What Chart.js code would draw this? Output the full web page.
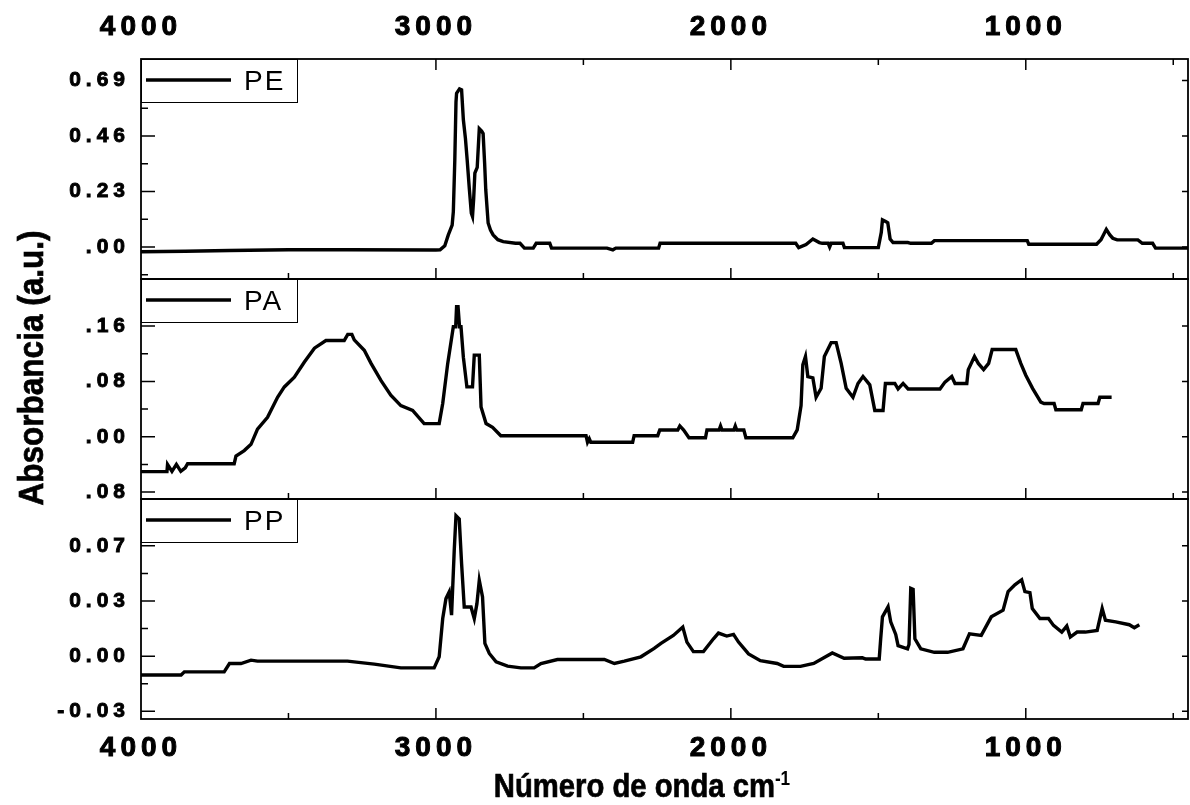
<!DOCTYPE html>
<html>
<head>
<meta charset="utf-8">
<script src="https://cdn.jsdelivr.net/npm/chart.js@4.4.1/dist/chart.umd.min.js"></script>
<style>
  html, body { margin: 0; padding: 0; background: #fff; }
  canvas { display: block; }
</style>
</head>
<body>
<canvas id="ftir" width="1190" height="805"></canvas>
<script>
// wavenumber axis (cm-1), drawn high -> low
const xMin = 450
const xMax = 4000
const xMajor = [4000, 3000, 2000, 1000]
const xMinor = [3500, 2500, 1500, 500]

// PE spectrum
const peWn  = [4000, 3850, 3700, 3500, 3300, 3000, 2986, 2970, 2958, 2945, 2941, 2936, 2932, 2930, 2920, 2913, 2907, 2900, 2894, 2887, 2880, 2876, 2872, 2868, 2860, 2853, 2845, 2840, 2835, 2831, 2823, 2815, 2806, 2790, 2772, 2730, 2715, 2700, 2670, 2660, 2614, 2608, 2420, 2400, 2390, 2245, 2240, 1780, 1770, 1745, 1722, 1700, 1690, 1670, 1665, 1660, 1620, 1615, 1500, 1490, 1486, 1475, 1468, 1460, 1450, 1400, 1390, 1320, 1310, 1050, 995, 990, 760, 745, 727, 715, 705, 690, 620, 605, 570, 560, 450]
const peAbs = [-0.020, -0.018, -0.015, -0.012, -0.012, -0.013, -0.012, 0.005, 0.05, 0.09, 0.146, 0.36, 0.60, 0.637, 0.655, 0.651, 0.527, 0.45, 0.36, 0.245, 0.14, 0.126, 0.2, 0.306, 0.33, 0.49, 0.48, 0.47, 0.35, 0.236, 0.099, 0.07, 0.05, 0.03, 0.022, 0.015, 0.015, -0.005, -0.005, 0.015, 0.015, -0.005, -0.005, -0.012, -0.005, -0.005, 0.015, 0.015, -0.003, 0.01, 0.033, 0.018, 0.015, 0.015, 0.0, 0.015, 0.015, -0.003, -0.003, 0.06, 0.112, 0.105, 0.1, 0.033, 0.018, 0.018, 0.015, 0.015, 0.026, 0.026, 0.026, 0.011, 0.011, 0.03, 0.073, 0.05, 0.036, 0.029, 0.029, 0.015, 0.015, -0.005, -0.005]

// PA spectrum
const paWn  = [4000, 3912, 3910, 3895, 3880, 3865, 3850, 3842, 3684, 3678, 3650, 3627, 3605, 3571, 3537, 3514, 3480, 3446, 3412, 3373, 3311, 3299, 3285, 3277, 3243, 3220, 3186, 3153, 3119, 3079, 3040, 2989, 2977, 2960, 2941, 2933, 2930, 2925, 2920, 2915, 2907, 2895, 2876, 2870, 2853, 2847, 2830, 2808, 2780, 2491, 2486, 2480, 2475, 2333, 2328, 2248, 2241, 2180, 2173, 2160, 2142, 2086, 2081, 2040, 2035, 2030, 1990, 1985, 1980, 1956, 1949, 1790, 1775, 1762, 1756, 1747, 1739, 1722, 1711, 1694, 1683, 1660, 1643, 1626, 1609, 1586, 1569, 1552, 1529, 1512, 1484, 1476, 1444, 1433, 1416, 1399, 1291, 1274, 1251, 1240, 1200, 1195, 1174, 1161, 1143, 1126, 1114, 1034, 1017, 1000, 977, 949, 938, 904, 898, 812, 806, 755, 749, 709]
const paAbs = [-0.0505, -0.0505, -0.040, -0.050, -0.040, -0.050, -0.045, -0.039, -0.039, -0.028, -0.020, -0.011, 0.011, 0.028, 0.057, 0.072, 0.086, 0.108, 0.128, 0.139, 0.139, 0.148, 0.148, 0.140, 0.125, 0.106, 0.081, 0.060, 0.045, 0.038, 0.019, 0.019, 0.048, 0.106, 0.159, 0.159, 0.188, 0.188, 0.159, 0.159, 0.115, 0.072, 0.072, 0.118, 0.118, 0.043, 0.019, 0.0135, 0.0015, 0.0015, -0.008, -0.003, -0.008, -0.008, 0.0015, 0.0015, 0.0097, 0.0097, 0.0156, 0.0097, -0.0015, -0.0015, 0.0097, 0.0097, 0.0156, 0.0097, 0.0097, 0.0156, 0.0097, 0.0097, -0.0015, -0.0015, 0.010, 0.045, 0.104, 0.116, 0.087, 0.085, 0.057, 0.070, 0.116, 0.136, 0.136, 0.106, 0.070, 0.057, 0.077, 0.087, 0.075, 0.038, 0.038, 0.077, 0.077, 0.069, 0.077, 0.069, 0.069, 0.079, 0.087, 0.077, 0.077, 0.097, 0.116, 0.106, 0.097, 0.106, 0.126, 0.126, 0.106, 0.089, 0.070, 0.050, 0.048, 0.048, 0.039, 0.039, 0.048, 0.048, 0.057, 0.057]

// PP spectrum
const ppWn  = [4000, 3864, 3853, 3718, 3700, 3661, 3627, 3605, 3401, 3300, 3209, 3119, 3006, 2989, 2977, 2966, 2955, 2947, 2938, 2932, 2921, 2913, 2904, 2881, 2870, 2861, 2853, 2842, 2834, 2819, 2796, 2757, 2712, 2667, 2644, 2588, 2429, 2395, 2361, 2305, 2260, 2237, 2195, 2163, 2149, 2127, 2093, 2059, 2042, 2014, 1991, 1974, 1940, 1900, 1843, 1821, 1764, 1719, 1656, 1616, 1554, 1543, 1497, 1492, 1486, 1467, 1458, 1441, 1433, 1401, 1396, 1390, 1382, 1376, 1356, 1310, 1265, 1213, 1191, 1151, 1117, 1077, 1060, 1037, 1014, 1003, 986, 978, 952, 923, 906, 878, 861, 849, 826, 798, 758, 741, 730, 695, 649, 632, 615]
const ppAbs = [-0.0113, -0.0113, -0.0094, -0.0094, -0.0044, -0.0044, -0.0024, -0.003, -0.003, -0.003, -0.0048, -0.007, -0.007, -0.0004, 0.0225, 0.0344, 0.0384, 0.0245, 0.063, 0.084, 0.082, 0.0553, 0.0294, 0.0294, 0.0225, 0.0314, 0.0453, 0.0354, 0.0076, 0.0016, -0.0034, -0.006, -0.007, -0.007, -0.0044, -0.002, -0.002, -0.0044, -0.003, -0.0004, 0.0046, 0.0076, 0.0124, 0.0174, 0.0084, 0.0027, 0.0027, 0.0104, 0.0138, 0.012, 0.013, 0.0084, 0.0013, -0.0027, -0.0044, -0.0061, -0.0061, -0.0044, 0.0019, -0.0013, -0.001, -0.0017, -0.0017, 0.0104, 0.0235, 0.0295, 0.0205, 0.013, 0.0063, 0.0044, 0.007, 0.0406, 0.040, 0.0104, 0.0044, 0.0023, 0.0023, 0.0044, 0.0134, 0.0124, 0.0235, 0.0275, 0.0386, 0.0427, 0.0457, 0.0386, 0.038, 0.0285, 0.0225, 0.0225, 0.0184, 0.0144, 0.018, 0.0114, 0.0144, 0.0144, 0.0154, 0.0285, 0.0215, 0.0205, 0.0188, 0.017, 0.0188]

// y axis ticks and printed labels per panel
const peTicks  = [0, 0.23, 0.46, 0.69]
const peLabels = ['.00', '0.23', '0.46', '0.69']
const paTicks  = [-0.08, 0, 0.08, 0.16]
const paLabels = ['.08', '.00', '.08', '.16']
const ppTicks  = [-0.033, 0, 0.033, 0.066]
const ppLabels = ['-0.03', '0.00', '0.03', '0.07']

const panelRange = {
  yPE: [-0.133, 0.779],
  yPA: [-0.090, 0.228],
  yPP: [-0.0376, 0.094]
}

const tickFont = { family: "'Liberation Sans', Arial, sans-serif", weight: 'bold' }

const toPoints = (wn, abs) => wn.map((x, i) => ({ x: x, y: abs[i] }))

const yAxis = (id, ticks, labels) => ({
  type: 'linear',
  position: 'left',
  stack: 'panels',
  stackWeight: 1,
  min: panelRange[id][0],
  max: panelRange[id][1],
  afterBuildTicks: s => { s.ticks = ticks.map(v => ({ value: v })) },
  afterFit: s => { s.width = 141 },
  ticks: {
    color: '#000',
    padding: 11,
    textStrokeColor: '#000',
    textStrokeWidth: 0.9,
    font: Object.assign({ size: 21 }, tickFont),
    callback: (v, i) => labels[i]
  },
  grid: { display: false, drawTicks: false },
  border: { display: false }
})

const xAxis = (pos, pad, h) => ({
  type: 'linear',
  position: pos,
  reverse: true,
  min: xMin,
  max: xMax,
  afterBuildTicks: s => { s.ticks = xMajor.map(v => ({ value: v })) },
  afterFit: s => { s.height = h },
  ticks: {
    color: '#000',
    padding: pad,
    maxRotation: 0,
    autoSkip: false,
    textStrokeColor: '#000',
    textStrokeWidth: 1,
    font: Object.assign({ size: 28 }, tickFont),
    callback: v => String(v)
  },
  grid: { display: false, drawTicks: false },
  border: { display: false }
})

// frame, inward tick marks, legend boxes and axis titles
const framePlugin = {
  id: 'frame',
  beforeDraw(chart) {
    chart.ctx.letterSpacing = '5px'
  },
  afterDatasetsDraw(chart) {
    const ctx = chart.ctx
    const x = chart.scales.x
    const L = chart.chartArea.left, R = chart.chartArea.right
    ctx.save()
    ctx.letterSpacing = '0px'
    ctx.strokeStyle = '#000'
    ctx.fillStyle = '#000'

    const panels = [['yPE', peTicks, 0], ['yPA', paTicks, 1], ['yPP', ppTicks, 2]]
    panels.forEach(([id, ticks, p]) => {
      const s = chart.scales[id]
      const T = s.top, B = s.bottom
      ctx.lineWidth = 1.8
      ctx.strokeRect(L, T, R - L, B - T)

      const step = ticks[1] - ticks[0]
      const minors = [ticks[0] - step / 2].concat(ticks.map(v => v + step / 2))
        .filter(v => v > s.min && v < s.max)
      ctx.lineWidth = 1.5
      ctx.beginPath()
      ticks.forEach(v => {
        const py = s.getPixelForValue(v)
        ctx.moveTo(L, py); ctx.lineTo(L + 14, py)
        ctx.moveTo(R, py); ctx.lineTo(R - 6, py)
      })
      minors.forEach(v => {
        const py = s.getPixelForValue(v)
        ctx.moveTo(L, py); ctx.lineTo(L + 7, py)
      })
      // x ticks on the bottom edge of each panel, top edge of the first
      xMajor.concat(xMinor).forEach(v => {
        const px = x.getPixelForValue(v)
        const len = xMajor.includes(v) ? 11 : 6
        if (px <= L + 1 || px >= R - 1) return
        ctx.moveTo(px, B); ctx.lineTo(px, B - len)
        if (p === 0) { ctx.moveTo(px, T); ctx.lineTo(px, T + len) }
      })
      ctx.stroke()

      // legend box
      const ds = chart.data.datasets[p]
      ctx.fillStyle = '#fff'
      ctx.fillRect(L, T, 156, 43)
      ctx.lineWidth = 1
      ctx.strokeRect(L + 0.5, T + 0.5, 156, 43)
      ctx.lineWidth = 3.4
      ctx.beginPath()
      ctx.moveTo(L + 5, T + 21); ctx.lineTo(L + 90, T + 21)
      ctx.stroke()
      ctx.fillStyle = '#000'
      ctx.font = "28px 'Liberation Sans', Arial, sans-serif"
      ctx.letterSpacing = '2px'
      ctx.textBaseline = 'middle'
      ctx.textAlign = 'left'
      ctx.fillText(ds.label, L + 103, T + 23)
      ctx.letterSpacing = '0px'
    })
    ctx.restore()
  },
  afterDraw(chart) {
    const ctx = chart.ctx
    ctx.save()
    ctx.letterSpacing = '0px'
    ctx.fillStyle = '#000'
    ctx.strokeStyle = '#000'
    ctx.lineWidth = 0.7
    ctx.textBaseline = 'alphabetic'
    const fam = "'Liberation Sans', Arial, sans-serif"

    // x title with superscript
    const main = 'Número de onda cm'
    const sup = '-1'
    ctx.font = 'bold 34px ' + fam
    const wMain = ctx.measureText(main).width
    ctx.font = 'bold 20px ' + fam
    const wSup = ctx.measureText(sup).width
    const sx = 0.86
    const total = (wMain + wSup) * sx
    ctx.save()
    ctx.translate(642 - total / 2, 797)
    ctx.scale(sx, 1)
    ctx.font = 'bold 34px ' + fam
    ctx.textAlign = 'left'
    ctx.fillText(main, 0, 0)
    ctx.strokeText(main, 0, 0)
    ctx.font = 'bold 20px ' + fam
    ctx.fillText(sup, wMain, -12)
    ctx.restore()

    // y title
    ctx.save()
    ctx.translate(43, 368)
    ctx.rotate(-Math.PI / 2)
    ctx.scale(0.9, 1)
    ctx.font = 'bold 35px ' + fam
    ctx.textAlign = 'center'
    ctx.fillText('Absorbancia (a.u.)', 0, 0)
    ctx.strokeText('Absorbancia (a.u.)', 0, 0)
    ctx.restore()
    ctx.restore()
  }
}

const lineStyle = {
  borderColor: '#000',
  borderWidth: 3.4,
  pointRadius: 0,
  tension: 0,
  fill: false,
  xAxisID: 'x'
}

new Chart(document.getElementById('ftir'), {
  type: 'line',
  data: {
    datasets: [
      Object.assign({ label: 'PE', data: toPoints(peWn, peAbs), yAxisID: 'yPE' }, lineStyle),
      Object.assign({ label: 'PA', data: toPoints(paWn, paAbs), yAxisID: 'yPA' }, lineStyle),
      Object.assign({ label: 'PP', data: toPoints(ppWn, ppAbs), yAxisID: 'yPP' }, lineStyle)
    ]
  },
  options: {
    responsive: false,
    animation: false,
    layout: { padding: { left: 0, right: 2, top: 0, bottom: 0 } },
    plugins: { legend: { display: false }, tooltip: { enabled: false } },
    scales: {
      x: xAxis('bottom', 12, 86),
      xTop: xAxis('top', 15, 59),
      // stacked panels: first listed sits at the bottom
      yPP: yAxis('yPP', ppTicks, ppLabels),
      yPA: yAxis('yPA', paTicks, paLabels),
      yPE: yAxis('yPE', peTicks, peLabels)
    }
  },
  plugins: [framePlugin]
})
</script>
</body>
</html>
